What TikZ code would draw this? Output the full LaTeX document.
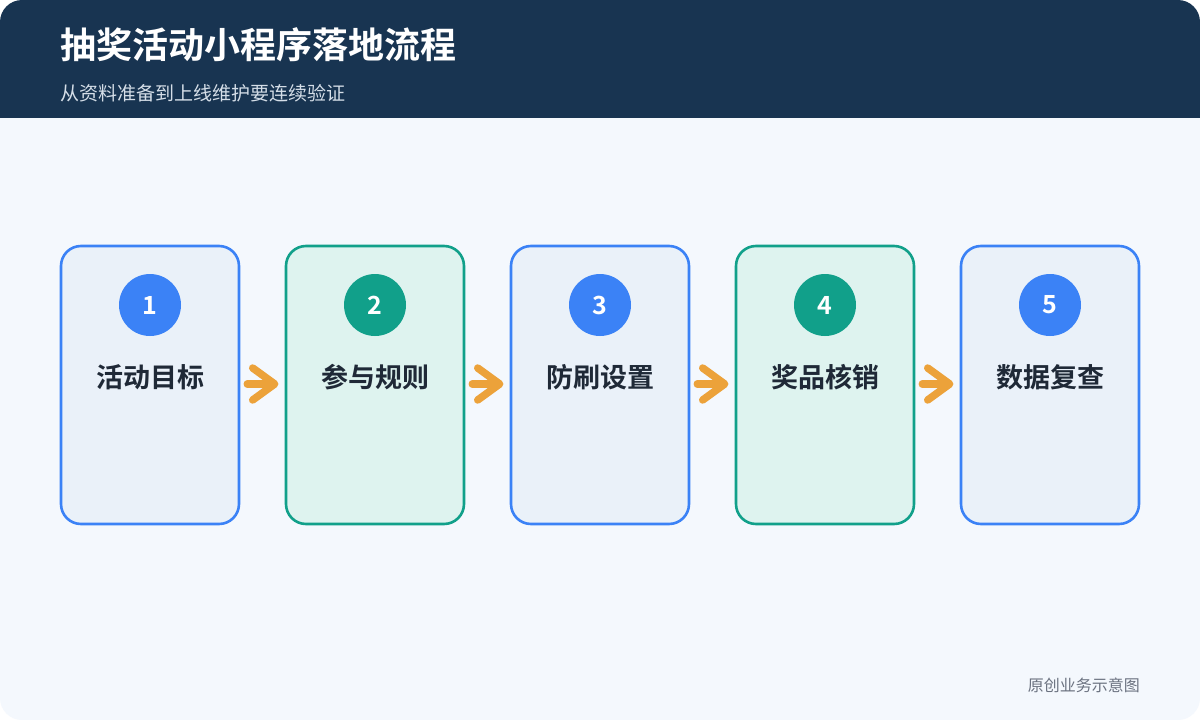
\documentclass[tikz,border=0pt]{standalone}
\usepackage{fontspec}
\usetikzlibrary{calc}
\setmainfont{Noto Sans CJK SC}[BoldFont={Noto Sans CJK SC Bold}]
\definecolor{bg}{HTML}{F4F8FD}
\definecolor{hdr}{HTML}{183451}
\definecolor{sub}{HTML}{D5DEE8}
\definecolor{blueC}{HTML}{3B82F6}
\definecolor{blueF}{HTML}{EAF1F9}
\definecolor{greenC}{HTML}{11A08A}
\definecolor{greenF}{HTML}{DEF3EF}
\definecolor{arrC}{HTML}{ECA23A}
\definecolor{txt}{HTML}{1F2937}
\definecolor{foot}{HTML}{6B7280}
\begin{document}
\begin{tikzpicture}[x=1pt,y=-1pt,
  stepbox/.style={draw=#1C,fill=#1F,line width=2.6pt,rounded corners=20pt,minimum width=178pt,minimum height=278pt,inner sep=0pt},
  numdot/.style={circle,fill=#1C,minimum size=62pt,inner sep=0pt,text=white,font=\bfseries\fontsize{25}{25}\selectfont},
  lbl/.style={text=txt,font=\bfseries\fontsize{27}{27}\selectfont,inner sep=0pt},
  flow/.style={draw=arrC,line width=7.5pt,line cap=round,line join=round}
]
\useasboundingbox (0,0) rectangle (1200,720);
\fill[white] (0,0) rectangle (1200,720);
\begin{scope}
\clip[rounded corners=22pt] (0,0) rectangle (1200,720);
\fill[bg] (0,0) rectangle (1200,720);
\fill[hdr] (0,0) rectangle (1200,118);
\end{scope}
\node[anchor=west,text=white,font=\bfseries\fontsize{36}{36}\selectfont,inner sep=0pt] (title) at (60,45) {抽奖活动小程序落地流程};
\node[anchor=west,text=sub,font=\fontsize{19}{19}\selectfont,inner sep=0pt] (subt) at (60,93) {从资料准备到上线维护要连续验证};
\foreach \i/\c/\t in {1/blue/活动目标,2/green/参与规则,3/blue/防刷设置,4/green/奖品核销,5/blue/数据复查}{
  \node[stepbox=\c] (b\i) at ({150+225*(\i-1)},385) {};
  \node[numdot=\c] (n\i) at ({150+225*(\i-1)},305) {\i};
  \node[lbl] (l\i) at ({150+225*(\i-1)},377) {\t};
}
\foreach \i [evaluate=\i as \j using int(\i+1)] in {1,2,3,4}{
  \coordinate (s\i) at ($(b\i.east)+(7,-1)$);
  \coordinate (e\i) at ($(b\j.west)+(-10,-1)$);
  \draw[flow] (s\i) -- ($(e\i)+(-1,0)$);
  \draw[flow] ($(e\i)+(-22,-16)$) -- (e\i) -- ($(e\i)+(-22,16)$);
}
\node[anchor=east,text=foot,font=\fontsize{16}{16}\selectfont,inner sep=0pt] (ft) at (1140,685) {原创业务示意图};
\end{tikzpicture}
\end{document}
